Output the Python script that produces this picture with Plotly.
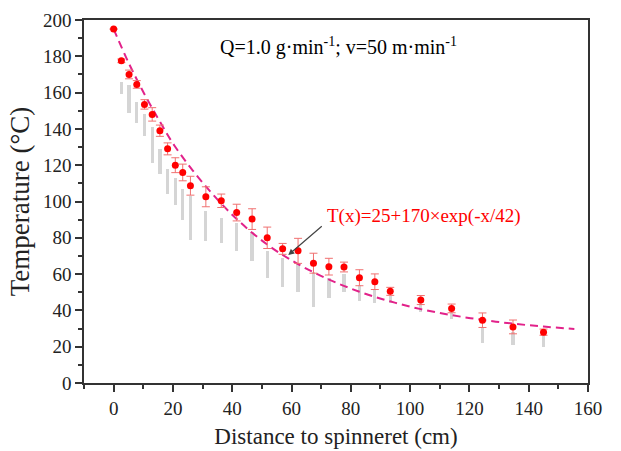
import plotly.graph_objects as go

# Mean temperature with error bars (red); x positions (axis units)
dist = [0, 2.6, 5.2, 7.8, 10.4, 13.0, 15.6, 18.2, 20.8, 23.3, 25.9, 31.1, 36.3, 41.5, 46.7,
        51.8, 57.0, 62.2, 67.4, 72.6, 77.7, 82.9, 88.1, 93.3, 103.6, 114.0, 124.4, 134.7, 145.0]
temp = [195, 177.5, 170, 164.5, 153.5, 148, 139, 129, 120, 116, 108.7, 102.6, 100.4, 93.9,
        90.3, 80, 73.9, 72.8, 66, 64.1, 63.9, 58, 55.8, 50.5, 45.7, 41.1, 34.6, 30.9, 28]
err = [0, 1.0, 2.4, 2.1, 2.6, 3.7, 3.1, 3.3, 4.1, 4.6, 5.2, 5.5, 3.7, 4.6, 5.7, 5.9, 3.0,
       6.9, 5.5, 4.6, 2.7, 4.4, 4.3, 2.2, 2.5, 2.4, 4.0, 3.8, 1.7]

# Spread of individual measurements (grey strips): low / high temperature
strip_x = [2.6, 5.2, 7.8, 10.4, 13.0, 15.6, 18.2, 20.8, 23.3, 25.9, 31.1, 36.3, 41.5, 46.7,
           51.8, 57.0, 62.2, 67.4, 72.6, 77.7, 82.9, 88.1, 93.3, 103.6, 114.0, 124.4, 134.7, 145.0]
strip_lo = [159, 149, 143, 136, 121, 115, 104, 98, 90, 79, 78, 77, 73, 67, 58, 53, 50,
            42, 47, 50, 45, 44, 44, 39, 35, 22, 21, 20]
strip_hi = [166, 164, 155, 148, 141, 129, 118, 113, 107, 103, 95, 91, 88, 83, 73, 69, 66,
            61, 58, 60, 54, 52, 48, 44, 39, 31, 28, 26]

# Fitted curve T(x)=25+170*exp(-x/42)
fit_x = [0, 5.2, 10.4, 15.5, 20.7, 31.1, 41.4, 51.8, 62.2, 72.5, 82.9, 93.2, 103.6, 114.0,
         124.3, 134.7, 145.0, 155.4]
fit_t = [195, 175.9, 159.1, 144.3, 130.3, 108.3, 90.5, 76.3, 65.5, 57.1, 50.3, 45.0,
         40.7, 37.4, 34.8, 32.7, 31.1, 29.8]

x_ticks = list(range(0, 161, 20))
y_ticks = list(range(0, 201, 20))

FONT = "Liberation Serif, Times New Roman, serif"

fig = go.Figure()

fig.add_trace(go.Bar(
    x=strip_x, y=[h - l for h, l in zip(strip_hi, strip_lo)], base=strip_lo,
    width=1.1, marker=dict(color="rgba(150,150,150,0.4)", line=dict(width=0)),
    showlegend=False, hoverinfo="skip"))

fig.add_trace(go.Scatter(
    x=fit_x, y=fit_t, mode="lines",
    line=dict(color="#E2228A", width=2, dash="8px,5px", shape="spline"),
    showlegend=False))

fig.add_trace(go.Scatter(
    x=dist, y=temp, mode="markers",
    marker=dict(color="#FF0000", size=7, symbol="circle"),
    error_y=dict(type="data", array=err, visible=True, color="#F07070", thickness=1, width=4),
    showlegend=False))

fig.add_annotation(x=75.9, y=185.5, xref="x", yref="y", showarrow=False,
                   text="Q=1.0 g·min<sup>-1</sup>; v=50 m·min<sup>-1</sup>",
                   font=dict(family=FONT, size=20, color="black"))
fig.add_annotation(x=71.4, y=92, xref="x", yref="y", showarrow=False, xanchor="left",
                   text="T(x)=25+170×exp(-x/42)",
                   font=dict(family=FONT, size=19, color="#FF0000"))
fig.add_annotation(x=58.9, y=70.5, xref="x", yref="y", text="", showarrow=True,
                   ax=35, ay=-30, arrowhead=2, arrowsize=1, arrowwidth=1.2, arrowcolor="#444")

axis_common = dict(showgrid=False, zeroline=False, showline=True, linecolor="#333", linewidth=1.5,
                   mirror=True, ticks="outside", ticklen=7, tickwidth=1.5, tickcolor="#333",
                   tickfont=dict(family=FONT, size=19, color="#222"))

fig.update_xaxes(range=[-10, 160], tickvals=x_ticks, automargin=False,
                 minor=dict(dtick=10, tick0=0, ticks="outside", ticklen=4, tickcolor="#333"),
                 title=dict(text="Distance to spinneret (cm)", font=dict(family=FONT, size=23, color="#222"),
                            standoff=10),
                 **axis_common)
fig.update_yaxes(range=[0, 200], tickvals=y_ticks, automargin=False,
                 minor=dict(dtick=10, tick0=0, ticks="outside", ticklen=4, tickcolor="#333"),
                 title=dict(text="Temperature (°C)", font=dict(family=FONT, size=27, color="#222"),
                            standoff=6),
                 **axis_common)

fig.update_layout(width=621, height=451, margin=dict(l=84, r=33, t=20, b=68),
                  plot_bgcolor="white", paper_bgcolor="white", bargap=0, barmode="overlay")

fig.write_html("out.html")
